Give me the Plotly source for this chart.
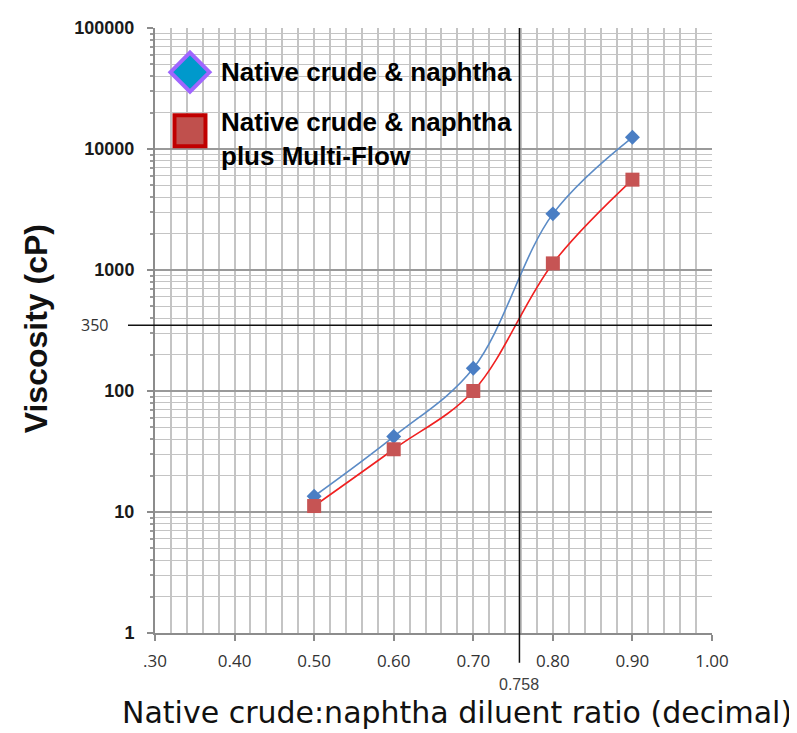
import math
import plotly.graph_objects as go

# ---- data ----
ratio = [0.50, 0.60, 0.70, 0.80, 0.90]
visc_naphtha = [13.5, 42, 154, 2910, 12500]
visc_multiflow = [11.2, 33, 100, 1134, 5580]

series_names = ["Native crude & naphtha", "Native crude & naphtha<br>plus Multi-Flow"]

x_tickvals = [0.3, 0.4, 0.5, 0.6, 0.7, 0.8, 0.9, 1.0]
x_ticktext = [".30", "0.40", "0.50", "0.60", "0.70", "0.80", "0.90", "1.00"]
y_tickvals = [1, 10, 100, 1000, 10000, 100000]
y_ticktext = ["1", "10", "100", "1000", "10000", "100000"]

target_ratio = 0.758
target_visc = 350

# ---- figure ----
fig = go.Figure()

fig.add_trace(go.Scatter(
    x=ratio, y=visc_naphtha, mode="lines+markers", name=series_names[0],
    line=dict(color="#5B8BC6", width=1.6, shape="spline", smoothing=1.0),
    marker=dict(symbol="diamond", size=11.5, color="#4A7EC4"),
    showlegend=False,
))
fig.add_trace(go.Scatter(
    x=ratio, y=visc_multiflow, mode="lines+markers", name=series_names[1],
    line=dict(color="#F02020", width=1.6, shape="spline", smoothing=1.0),
    marker=dict(symbol="square", size=14, color="#C65454"),
    showlegend=False,
))

# custom legend symbols on an overlay axis (0..1 over the plot area)
fig.add_trace(go.Scatter(
    x=[0.0628], y=[0.927], xaxis="x2", yaxis="y2", mode="markers",
    marker=dict(symbol="diamond", size=30, color="#0099CC",
                line=dict(color="#A066FF", width=4)),
    showlegend=False, hoverinfo="skip", cliponaxis=False,
))
fig.add_trace(go.Scatter(
    x=[0.0628], y=[0.830], xaxis="x2", yaxis="y2", mode="markers",
    marker=dict(symbol="square", size=31, color="#C0504D",
                line=dict(color="#C00000", width=4)),
    showlegend=False, hoverinfo="skip", cliponaxis=False,
))

grid_minor = "#C4C4C4"
grid_major = "#9A9A9A"

y_minor_vals = [m * 10 ** k for k in range(5) for m in range(2, 10)]

fig.update_layout(
    width=789, height=725,
    margin=dict(l=147, r=85, t=10, b=100),
    paper_bgcolor="white", plot_bgcolor="white",
    xaxis=dict(
        range=[0.3, 1.0], tickmode="array", tickvals=x_tickvals, ticktext=x_ticktext,
        showgrid=True, gridcolor=grid_minor, gridwidth=1.6,
        minor=dict(dtick=0.02, tick0=0.3, showgrid=True, gridcolor=grid_minor, gridwidth=1.6),
        showline=True, linecolor="#8C8C8C", linewidth=2,
        ticks="outside", ticklen=6, tickcolor="#8C8C8C", tickwidth=1.5,
        tickfont=dict(family="Open Sans, Liberation Sans, sans-serif", size=17, color="#333333"),
        ticklabelstandoff=6,
        zeroline=False,
    ),
    yaxis=dict(
        type="log", range=[0, 5], tickmode="array", tickvals=y_tickvals, ticktext=y_ticktext,
        showgrid=True, gridcolor=grid_major, gridwidth=2,
        minor=dict(tickmode="array", tickvals=y_minor_vals, showgrid=True,
                   gridcolor=grid_minor, gridwidth=1.4,
                   ticks="outside", ticklen=3, tickcolor="#9A9A9A"),
        showline=True, linecolor="#8C8C8C", linewidth=2,
        ticks="outside", ticklen=6, tickcolor="#8C8C8C", tickwidth=1.5,
        tickfont=dict(family="Liberation Sans, Arial, sans-serif", size=18, color="#1A1A1A", weight="bold"),
        ticklabelstandoff=9,
        zeroline=False,
    ),
    xaxis2=dict(overlaying="x", range=[0, 1], visible=False),
    yaxis2=dict(overlaying="y", range=[0, 1], visible=False),
    shapes=[
        dict(type="line", xref="x", yref="paper", x0=target_ratio, x1=target_ratio,
             y0=-0.049, y1=1, line=dict(color="#111111", width=1.5)),
        dict(type="line", xref="paper", yref="y", x0=-0.0485, x1=1,
             y0=target_visc, y1=target_visc, line=dict(color="#111111", width=1.5)),
    ],
    annotations=[
        dict(text=series_names[0], xref="paper", yref="paper", x=0.1149, y=0.927,
             xanchor="left", yanchor="middle", showarrow=False, align="left",
             font=dict(family="Liberation Sans, Arial, sans-serif", size=26, color="black", weight="bold")),
        dict(text=series_names[1], xref="paper", yref="paper", x=0.1149, y=0.816,
             xanchor="left", yanchor="middle", showarrow=False, align="left",
             font=dict(family="Liberation Sans, Arial, sans-serif", size=26, color="black", weight="bold")),
        dict(text=str(target_visc), xref="paper", yref="y", x=-0.0808, y=math.log10(target_visc),
             xanchor="right", yanchor="middle", showarrow=False,
             font=dict(family="Open Sans, Liberation Sans, sans-serif", size=16, color="#333333")),
        dict(text=str(target_ratio), xref="x", yref="paper", x=target_ratio, y=-0.0845,
             xanchor="center", yanchor="middle", showarrow=False,
             font=dict(family="Liberation Sans, Arial, sans-serif", size=16, color="#404040")),
        dict(text="Native crude:naphtha diluent ratio (decimal)", xref="paper", yref="paper",
             x=0.542, y=-0.131, xanchor="center", yanchor="middle", showarrow=False,
             font=dict(family="DejaVu Sans, Liberation Sans, sans-serif", size=30, color="#111111")),
        dict(text="Viscosity (cP)", xref="paper", yref="paper", x=-0.2136, y=0.502,
             xanchor="center", yanchor="middle", showarrow=False, textangle=-90,
             font=dict(family="Liberation Sans, Arial, sans-serif", size=32, color="#111111", weight="bold")),
    ],
)

fig.write_html("out.html")
